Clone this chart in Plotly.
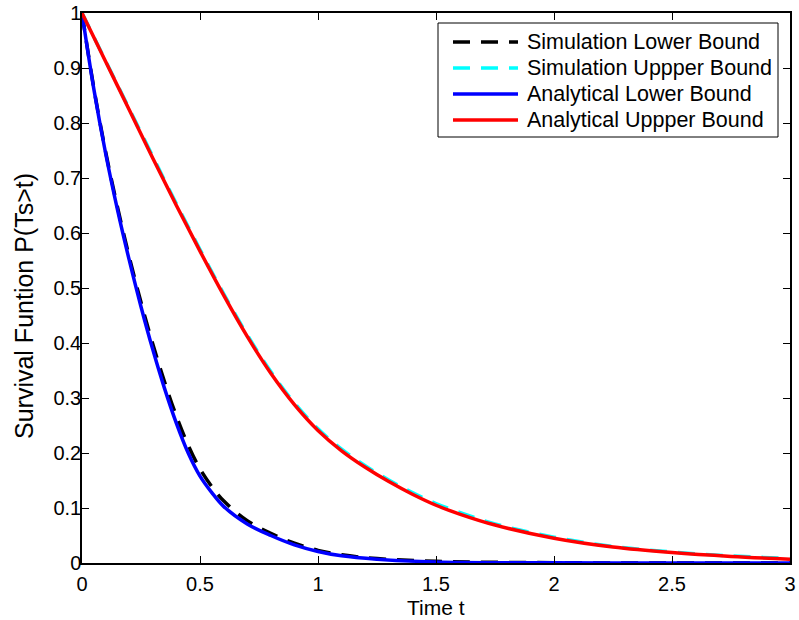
import plotly.graph_objects as go

# ---------------- data ----------------
t_upper = [0, 0.1, 0.2, 0.3, 0.4, 0.5, 0.6, 0.7, 0.8, 0.9, 1.0, 1.1, 1.2, 1.3,
           1.4, 1.5, 1.6, 1.75, 2.0, 2.25, 2.5, 2.75, 3.0]
analytical_upper = [1.0, 0.912, 0.824, 0.736, 0.650, 0.567, 0.487, 0.412, 0.345,
                    0.288, 0.241, 0.204, 0.174, 0.148, 0.125, 0.105, 0.089,
                    0.069, 0.045, 0.029, 0.019, 0.012, 0.007]
simulation_upper = [1.0, 0.913, 0.826, 0.739, 0.653, 0.570, 0.490, 0.415, 0.348,
                    0.291, 0.244, 0.207, 0.177, 0.151, 0.128, 0.108, 0.092,
                    0.071, 0.047, 0.030, 0.020, 0.013, 0.008]

t_lower = [0, 0.05, 0.1, 0.15, 0.2, 0.25, 0.3, 0.35, 0.4, 0.45, 0.5, 0.55, 0.6,
           0.7, 0.8, 0.9, 1.0, 1.1, 1.25, 1.5, 2.0, 2.5, 3.0]
analytical_lower = [1.0, 0.862, 0.745, 0.643, 0.551, 0.466, 0.388, 0.317, 0.254,
                    0.200, 0.158, 0.128, 0.103, 0.071, 0.050, 0.033, 0.021,
                    0.013, 0.007, 0.002, 0.0004, 0.0001, 0.0]
simulation_lower = [1.0, 0.864, 0.748, 0.648, 0.557, 0.474, 0.398, 0.329, 0.267,
                    0.214, 0.171, 0.139, 0.113, 0.077, 0.054, 0.036, 0.023,
                    0.015, 0.008, 0.003, 0.0005, 0.0001, 0.0]

x_ticks = [0, 0.5, 1, 1.5, 2, 2.5, 3]
x_tick_labels = ["0", "0.5", "1", "1.5", "2", "2.5", "3"]
y_ticks = [0, 0.1, 0.2, 0.3, 0.4, 0.5, 0.6, 0.7, 0.8, 0.9, 1]
y_tick_labels = ["0", "0.1", "0.2", "0.3", "0.4", "0.5", "0.6", "0.7", "0.8", "0.9", "1"]

series_names = ["Simulation Lower Bound", "Simulation Uppper Bound",
                "Analytical Lower Bound", "Analytical Uppper Bound"]
series_colors = ["#000000", "#00FFFF", "#0000FF", "#FF0000"]
series_dash = ["17px,11px", "17px,11px", "solid", "solid"]

# ---------------- layout geometry (page pixels) ----------------
W, H = 799, 620
PLOT_L, PLOT_R, PLOT_T, PLOT_B = 82, 790, 13, 563
L, T = PLOT_L, PLOT_T
R, B = W - PLOT_R, H - PLOT_B
PW, PH = PLOT_R - PLOT_L, PLOT_B - PLOT_T
FONT = "Liberation Sans, Arial, Helvetica, sans-serif"


def px(x):
    return (x - PLOT_L) / PW


def py(y):
    return (PLOT_B - y) / PH


fig = go.Figure()
data_sets = [(t_lower, simulation_lower), (t_upper, simulation_upper),
             (t_lower, analytical_lower), (t_upper, analytical_upper)]
for (xs, ys), name, col, dash in zip(data_sets, series_names, series_colors, series_dash):
    fig.add_trace(go.Scatter(x=xs, y=ys, mode="lines", name=name,
                             line=dict(color=col, width=3.5, dash=dash, shape="spline",
                                       smoothing=1.0),
                             showlegend=False, hoverinfo="skip"))

axis_common = dict(showgrid=False, zeroline=False, showline=True, linecolor="black",
                   linewidth=1.5, mirror="ticks", ticks="inside", ticklen=7,
                   tickwidth=1, tickcolor="black", ticklabeloverflow="allow",
                   automargin=False,
                   tickfont=dict(family=FONT, size=20, color="black"))

fig.update_xaxes(range=[0, 3], tickvals=x_ticks, ticktext=x_tick_labels,
                 ticklabelstandoff=2, **axis_common)
fig.update_yaxes(range=[0, 1], tickvals=y_ticks, ticktext=y_tick_labels,
                 ticklabelstandoff=-5, **axis_common)

shapes = []
annotations = []
# legend box
shapes.append(dict(type="rect", xref="paper", yref="paper",
                   x0=px(438), x1=px(778), y0=py(137), y1=py(23),
                   line=dict(color="black", width=1), fillcolor="white", layer="above"))
rows = [42, 68, 94, 120]
for yrow, name, col, dash in zip(rows, series_names, series_colors, series_dash):
    shapes.append(dict(type="line", xref="paper", yref="paper",
                       x0=px(453), x1=px(518), y0=py(yrow), y1=py(yrow),
                       line=dict(color=col, width=3.5, dash=dash), layer="above"))
    annotations.append(dict(text=name, xref="paper", yref="paper", x=px(525), y=py(yrow),
                            xanchor="left", yanchor="middle", showarrow=False,
                            font=dict(family=FONT, size=21.5, color="black")))

# axis titles
annotations.append(dict(text="Time t", xref="paper", yref="paper", x=0.5, y=py(607),
                        xanchor="center", yanchor="middle", showarrow=False,
                        font=dict(family=FONT, size=21, color="black")))
annotations.append(dict(text="Survival Funtion P(Ts>t)", xref="paper", yref="paper",
                        x=px(24), y=py(306), textangle=-90,
                        xanchor="center", yanchor="middle", showarrow=False,
                        font=dict(family=FONT, size=25, color="black")))

fig.update_layout(width=W, height=H, autosize=False,
                  margin=dict(l=L, r=R, t=T, b=B, pad=0, autoexpand=False),
                  paper_bgcolor="white", plot_bgcolor="white", hovermode=False,
                  shapes=shapes, annotations=annotations, showlegend=False)

fig.write_html("out.html", config={"displayModeBar": False, "responsive": False},
               post_script="document.body.style.margin='0px';")
